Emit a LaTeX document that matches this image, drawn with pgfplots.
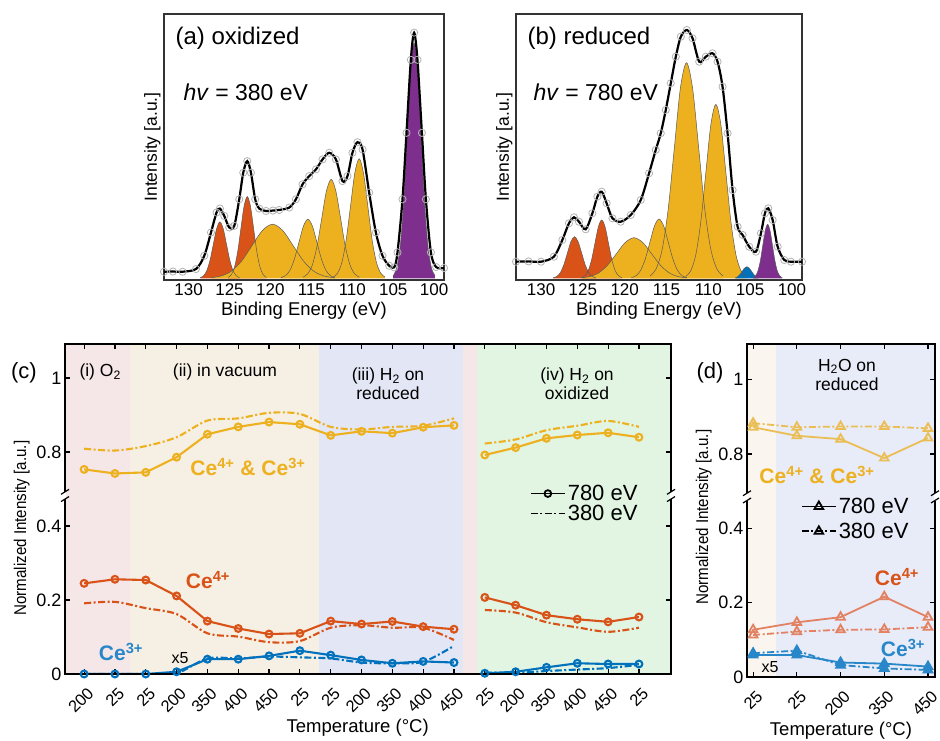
\documentclass[border=0pt]{standalone}
\usepackage{fontspec}
\setmainfont{Liberation Sans}
\usepackage{pgfplots}
\usepackage{pgfplotstable}
\pgfplotsset{compat=1.18}

\newcommand{\fs}[1]{\fontsize{#1}{#1}\selectfont}
\newcommand{\narrow}[1]{\scalebox{0.89}[1]{#1}}

\definecolor{mY}{RGB}{237,177,32}
\definecolor{mR}{RGB}{217,83,25}
\definecolor{mB}{RGB}{0,114,189}
\definecolor{mP}{RGB}{126,47,142}
\definecolor{dY}{RGB}{234,190,85}
\definecolor{dR}{RGB}{226,130,98}
\definecolor{dB}{RGB}{40,135,200}
\definecolor{bgPink}{RGB}{245,230,232}
\definecolor{bgBeige}{RGB}{246,239,227}
\definecolor{bgBlue}{RGB}{227,231,245}
\definecolor{bgGreen}{RGB}{226,244,226}
\definecolor{bgBeigeD}{RGB}{250,245,238}
\definecolor{bgBlueD}{RGB}{232,235,248}

\pgfplotsset{
  xps/.style={scale only axis, x dir=reverse, xmin=98.8, xmax=133.0,
    xtick={100,105,...,130}, ytick=\empty, xtick style={draw=none},
    axis line style={black!80, line width=1.2pt},
    ticklabel style={font=\fs{17}}, /pgf/number format/assume math mode=true,
    xlabel={Binding Energy (eV)}, ylabel={Intensity [a.u.]},
    xlabel style={font=\fs{18.5}}, ylabel style={font=\fs{17.5}}},
  comp/.style={fill=#1, draw=none, smooth},
  cline/.style={draw=black!65, line width=0.5pt, smooth},
  raw/.style={only marks, mark=o, mark size=3.6pt, black!30, line width=0.8pt},
  fit/.style={black, line width=2.2pt, smooth},
  trend/.style={scale only axis, tick align=inside, tick pos=both,
    major tick length=5pt, axis on top, axis line style={line width=1.5pt},
    every tick/.style={black, line width=1.2pt},
    ytick={0,0.2,0.4,0.6,0.8}, yticklabels={0,0.2,0.4,0.8,1},
    xticklabel style={font=\fs{16.5}, xshift=9pt, yshift=-14pt, rotate=45, anchor=east},
    yticklabel style={font=\fs{18}},
    xlabel={Temperature (°C)}, ylabel={\narrow{Normalized Intensity [a.u.]}},
    xlabel style={font=\fs{18.5}, yshift=3pt}, ylabel style={font=\fs{17}},
    unbounded coords=jump,
    legend cell align=left,
    legend style={draw=none, fill=none, font=\fs{22}, row sep=-1pt},
    legend image code/.code={\draw[mark repeat=2,mark phase=2,#1]
      plot coordinates {(0pt,0pt) (17pt,0pt) (34pt,0pt)};}},
  dd/.style={dash pattern=on 7pt off 2.5pt on 2pt off 2.5pt},
}

% ---------- (a) oxidized, hv = 380 eV ----------
\pgfplotstableread{
E h
123.77 0.6
124.17 2.5
124.57 7.7
124.97 18.4
125.37 34.3
125.77 49.9
126.17 56.6
126.57 49.9
126.97 34.3
127.37 18.4
127.77 7.7
128.17 2.5
128.57 0.6
}\aRa
\pgfplotstableread{
E h
120.49 0.9
120.88 3.6
121.27 11.1
121.66 26.6
122.05 49.7
122.44 72.4
122.83 82.0
123.22 72.4
123.61 49.7
124.00 26.6
124.39 11.1
124.78 3.6
125.17 0.9
}\aRb
\pgfplotstableread{
E h
112.24 0.6
113.49 2.4
114.74 7.3
115.99 17.6
117.24 32.9
118.49 47.9
119.74 54.3
120.99 47.9
122.24 32.9
123.49 17.6
124.74 7.3
125.99 2.4
127.24 0.6
}\aYa
\pgfplotstableread{
E h
112.12 0.7
112.67 2.6
113.22 8.0
113.77 19.3
114.32 36.0
114.87 52.3
115.42 59.3
115.97 52.3
116.52 36.0
117.07 19.3
117.62 8.0
118.17 2.6
118.72 0.7
}\aYb
\pgfplotstableread{
E h
109.13 1.1
109.71 4.4
110.28 13.4
110.86 32.2
111.43 60.2
112.01 87.6
112.58 99.3
113.16 87.6
113.73 60.2
114.31 32.2
114.88 13.4
115.46 4.4
116.03 1.1
}\aYc
\pgfplotstableread{
E h
106.01 1.3
106.54 5.3
107.06 16.2
107.59 39.0
108.11 72.8
108.64 105.9
109.16 120.0
109.69 105.9
110.21 72.8
110.74 39.0
111.26 16.2
111.79 5.3
112.31 1.3
}\aYd
\pgfplotstableread{
E h
99.90 2.6
100.33 10.4
100.75 31.9
101.18 76.6
101.60 143.1
102.03 208.3
102.45 236.0
102.88 208.3
103.30 143.1
103.73 76.6
104.15 31.9
104.58 10.4
105.00 2.6
}\aP
\pgfplotstableread{
E h
133.0 6.6
131.9 6.8
130.73 6.6
129.10 9.3
128.08 22.6
127.26 46.0
126.58 66.0
126.17 70.0
125.64 62.6
125.03 51.0
124.42 52.6
123.81 79.3
123.32 106.0
122.83 117.6
122.38 106.0
121.86 79.3
121.37 70.0
120.55 67.6
119.70 68.0
118.93 68.6
117.70 71.0
116.89 79.3
116.08 94.3
115.26 102.6
114.44 109.3
113.64 119.3
112.82 126.0
112.00 119.3
111.20 97.6
110.59 102.6
109.98 126.0
109.37 136.6
108.75 129.3
107.94 86.0
107.12 46.0
106.31 22.6
105.49 12.6
104.88 11.0
104.48 26.0
103.87 79.3
103.38 146.0
102.85 219.3
102.45 246.6
102.04 219.3
101.50 146.0
101.01 79.3
100.40 26.0
99.76 11.3
98.8 10.3
}\aEnv

% ---------- (b) reduced, hv = 780 eV ----------
\pgfplotstableread{
E h
123.45 0.5
123.88 1.8
124.30 5.6
124.73 13.5
125.15 25.2
125.58 36.7
126.00 41.6
126.43 36.7
126.85 25.2
127.28 13.5
127.70 5.6
128.13 1.8
128.55 0.5
}\bRa
\pgfplotstableread{
E h
120.35 0.6
120.75 2.6
121.15 7.9
121.55 18.9
121.95 35.4
122.35 51.5
122.75 58.3
123.15 51.5
123.55 35.4
123.95 18.9
124.35 7.9
124.75 2.6
125.15 0.6
}\bRb
\pgfplotstableread{
E h
112.59 0.5
113.64 1.8
114.69 5.5
115.74 13.2
116.79 24.6
117.84 35.8
118.89 40.6
119.94 35.8
120.99 24.6
122.04 13.2
123.09 5.5
124.14 1.8
125.19 0.5
}\bYa
\pgfplotstableread{
E h
112.59 0.7
113.14 2.6
113.69 8.0
114.24 19.3
114.79 36.0
115.34 52.3
115.89 59.3
116.44 52.3
116.99 36.0
117.54 19.3
118.09 8.0
118.64 2.6
119.19 0.7
}\bYb
\pgfplotstableread{
E h
108.26 2.4
108.99 9.5
109.71 29.2
110.44 70.0
111.16 130.8
111.89 190.3
112.61 215.6
113.34 190.3
114.06 130.8
114.79 70.0
115.51 29.2
116.24 9.5
116.96 2.4
}\bYc
\pgfplotstableread{
E h
105.50 1.9
106.10 7.6
106.70 23.5
107.30 56.5
107.90 105.5
108.50 153.6
109.10 174.0
109.70 153.6
110.30 105.5
110.90 56.5
111.50 23.5
112.10 7.6
112.70 1.9
}\bYd
\pgfplotstableread{
E h
104.02 0.5
104.29 1.6
104.57 3.8
104.84 7.0
105.12 10.2
105.39 11.6
105.67 10.2
105.94 7.0
106.22 3.8
106.49 1.6
106.77 0.5
}\bB
\pgfplotstableread{
E h
101.17 0.6
101.46 2.4
101.75 7.3
102.04 17.5
102.33 32.8
102.62 47.7
102.91 54.0
103.20 47.7
103.49 32.8
103.78 17.5
104.07 7.3
104.36 2.4
104.65 0.6
}\bP
\pgfplotstableread{
E h
133.0 16.6
131.5 16.9
130.0 16.6
128.47 21.6
127.46 38.3
126.67 55.0
126.07 61.0
125.47 56.6
124.67 49.0
123.87 65.0
123.27 81.6
122.75 86.6
122.16 75.0
121.47 60.0
120.48 56.6
119.28 63.3
118.08 78.3
117.09 105.0
116.29 128.3
115.69 145.0
115.09 168.3
114.49 195.0
113.89 221.6
113.29 241.6
112.57 248.3
111.89 240.0
111.09 216.6
110.30 221.6
109.50 225.0
108.90 216.6
108.30 191.6
107.70 145.0
107.10 88.3
106.50 51.6
105.90 43.3
105.11 31.6
104.31 26.6
103.71 45.0
103.23 65.0
102.83 70.0
102.31 58.3
101.71 31.6
100.92 18.3
100.12 16.6
98.8 16.6
}\bEnv

% ---------- (c) series: a = 780 eV, b = 380 eV ----------
\pgfplotstableread{
x a b
0 0.753 0.809
1 0.742 0.804
2 0.745 0.816
3 0.786 0.840
4 0.848 0.885
5 0.868 0.891
6 0.881 0.906
7 0.875 0.903
8 0.845 0.868
9 0.856 0.861
10 0.851 0.868
11 0.867 0.871
12 0.872 0.891
12.5 nan nan
13 0.792 0.823
14 0.812 0.834
15 0.837 0.859
16 0.846 0.871
17 0.852 0.884
18 0.840 0.868
}\cY
\pgfplotstableread{
x a b
0 0.245 0.191
1 0.256 0.195
2 0.254 0.178
3 0.211 0.162
4 0.143 0.110
5 0.123 0.101
6 0.108 0.086
7 0.110 0.089
8 0.143 0.125
9 0.135 0.132
10 0.142 0.125
11 0.128 0.125
12 0.121 0.092
12.5 nan nan
13 0.207 0.173
14 0.186 0.166
15 0.159 0.140
16 0.148 0.126
17 0.141 0.114
18 0.154 0.125
}\cR
\pgfplotstableread{
x a b
0 0.000 0.000
1 0.000 0.000
2 0.000 0.000
3 0.006 0.002
4 0.040 0.042
5 0.040 0.042
6 0.049 0.047
7 0.063 0.045
8 0.051 0.042
9 0.038 0.031
10 0.029 0.029
11 0.034 0.033
12 0.031 0.076
12.5 nan nan
13 0.002 0.004
14 0.006 0.003
15 0.018 0.008
16 0.029 0.012
17 0.027 0.016
18 0.027 0.025
}\cB

% ---------- (d) series ----------
\pgfplotstableread{
x a b
0 0.872 0.883
1 0.849 0.872
2 0.840 0.874
3 0.789 0.874
4 0.843 0.869
}\dYt
\pgfplotstableread{
x a b
0 0.127 0.113
1 0.147 0.122
2 0.161 0.127
3 0.216 0.128
4 0.161 0.134
}\dRt
\pgfplotstableread{
x a b
0 0.059 0.064
1 0.059 0.071
2 0.039 0.032
3 0.036 0.023
4 0.028 0.019
}\dBt

\newcommand{\brk}[2]{%
  \fill[white] ([xshift=-1.3pt]#1) rectangle ([xshift=1.3pt]#2);
  \draw[line width=1.2pt] ([xshift=-4pt,yshift=-2.5pt]#1) -- ([xshift=4pt,yshift=2.5pt]#1);
  \draw[line width=1.2pt] ([xshift=-4pt,yshift=-2.5pt]#2) -- ([xshift=4pt,yshift=2.5pt]#2);}

\begin{document}
\begin{tikzpicture}[x=1pt,y=1pt]
\path[use as bounding box] (0pt,0pt) rectangle (940pt,741pt);

% (a)
\begin{axis}[xps, at={(164pt,461pt)}, anchor=south west, width=280pt, height=266pt,
  ymin=-1.7, ymax=265.3]
\addplot[comp=mR] table {\aRa} \closedcycle;
\addplot[comp=mR] table {\aRb} \closedcycle;
\addplot[comp=mY] table {\aYa} \closedcycle;
\addplot[comp=mY] table {\aYb} \closedcycle;
\addplot[comp=mY] table {\aYc} \closedcycle;
\addplot[comp=mY] table {\aYd} \closedcycle;
\addplot[comp=mP] table {\aP} \closedcycle;
\addplot[cline] table {\aRa};
\addplot[cline] table {\aRb};
\addplot[cline] table {\aYa};
\addplot[cline] table {\aYb};
\addplot[cline] table {\aYc};
\addplot[cline] table {\aYd};
\addplot[cline] table {\aP};
\addplot[raw] table {\aEnv};
\addplot[fit] table {\aEnv};
\end{axis}

% (b)
\begin{axis}[xps, at={(516pt,461pt)}, anchor=south west, width=286pt, height=266pt,
  ymin=-1.7, ymax=264.3]
\addplot[comp=mR] table {\bRa} \closedcycle;
\addplot[comp=mR] table {\bRb} \closedcycle;
\addplot[comp=mY] table {\bYa} \closedcycle;
\addplot[comp=mY] table {\bYb} \closedcycle;
\addplot[comp=mY] table {\bYc} \closedcycle;
\addplot[comp=mY] table {\bYd} \closedcycle;
\addplot[comp=mB] table {\bB} \closedcycle;
\addplot[comp=mP] table {\bP} \closedcycle;
\addplot[cline] table {\bRa};
\addplot[cline] table {\bRb};
\addplot[cline] table {\bYa};
\addplot[cline] table {\bYb};
\addplot[cline] table {\bYc};
\addplot[cline] table {\bYd};
\addplot[cline] table {\bB};
\addplot[cline] table {\bP};
\addplot[raw] table {\bEnv};
\addplot[fit] table {\bEnv};
\end{axis}

% (c)
\begin{axis}[trend, name=c, at={(65pt,67pt)}, anchor=south west, width=606pt, height=330pt,
  xmin=-0.62, xmax=19.04, ymin=0, ymax=0.892, xtick={0,...,18},
  xticklabels={200,25,25,200,350,400,450,25,25,200,350,400,450,25,200,350,400,450,25},
  xlabel style={at={(ticklabel cs:0.483)}}, ylabel style={at={(ticklabel cs:0.442)}},
  legend style={at={(0.762,0.585)}, anchor=north west}]
\fill[bgPink] (axis cs:-0.62,0) rectangle (axis cs:1.5,0.892);
\fill[bgBeige] (axis cs:1.5,0) rectangle (axis cs:7.63,0.892);
\fill[bgBlue] (axis cs:7.63,0) rectangle (axis cs:12.3,0.892);
\fill[bgPink] (axis cs:12.3,0) rectangle (axis cs:12.74,0.892);
\fill[bgGreen] (axis cs:12.74,0) rectangle (axis cs:19.04,0.892);
\addplot[mY, line width=2.1pt, dd, smooth, forget plot, y filter/.expression={y-0.2}] table[x=x,y=b] {\cY};
\addplot[mY, line width=2.1pt, mark=o, mark size=3.4pt, forget plot, y filter/.expression={y-0.2}] table[x=x,y=a] {\cY};
\addplot[mR, line width=2.1pt, dd, smooth, forget plot] table[x=x,y=b] {\cR};
\addplot[mR, line width=2.1pt, mark=o, mark size=3.4pt, forget plot] table[x=x,y=a] {\cR};
\addplot[mB, line width=2.1pt, dd, smooth, forget plot] table[x=x,y=b] {\cB};
\addplot[mB, line width=2.1pt, mark=o, mark size=3.4pt, forget plot] table[x=x,y=a] {\cB};
\addlegendimage{black, line width=1.8pt, mark=o, mark size=3.4pt}
\addlegendentry{780 eV}
\addlegendimage{black, line width=1.8pt, dd}
\addlegendentry{380 eV}
\coordinate (cL1) at (rel axis cs:0,0.530);
\coordinate (cL2) at (rel axis cs:0,0.552);
\coordinate (cR1) at (rel axis cs:1,0.530);
\coordinate (cR2) at (rel axis cs:1,0.552);
\end{axis}
\brk{cL1}{cL2}
\brk{cR1}{cR2}

% (d)
\begin{axis}[trend, name=d, at={(747pt,64pt)}, anchor=south west, width=188pt, height=333pt,
  xmin=-0.14, xmax=4.16, ymin=0, ymax=0.896, xtick={0,...,4},
  xticklabels={25,25,200,350,450},
  ylabel style={at={(ticklabel cs:0.48)}},
  legend style={at={(0.27,0.55)}, anchor=north west, row sep=4pt}]
\fill[bgBeigeD] (axis cs:-0.14,0) rectangle (axis cs:0.53,0.896);
\fill[bgBlueD] (axis cs:0.53,0) rectangle (axis cs:4.16,0.896);
\addplot[dY, line width=1.8pt, dd, mark=triangle, mark size=5pt, mark options={solid}, forget plot, y filter/.expression={y-0.2}] table[x=x,y=b] {\dYt};
\addplot[dY, line width=1.8pt, mark=triangle, mark size=5pt, forget plot, y filter/.expression={y-0.2}] table[x=x,y=a] {\dYt};
\addplot[dR, line width=1.8pt, dd, mark=triangle, mark size=5pt, mark options={solid}, forget plot] table[x=x,y=b] {\dRt};
\addplot[dR, line width=1.8pt, mark=triangle, mark size=5pt, forget plot] table[x=x,y=a] {\dRt};
\addplot[dB, line width=1.8pt, dd, mark=triangle*, mark size=5pt, mark options={solid}, forget plot] table[x=x,y=b] {\dBt};
\addplot[dB, line width=1.8pt, mark=triangle*, mark size=5pt, forget plot] table[x=x,y=a] {\dBt};
\addlegendimage{black, line width=1.8pt, mark=triangle, mark size=5pt}
\addlegendentry{780 eV}
\addlegendimage{black, line width=1.8pt, dd, mark=triangle, mark size=5pt, mark options={solid}}
\addlegendentry{380 eV}
\coordinate (dL1) at (rel axis cs:0,0.530);
\coordinate (dL2) at (rel axis cs:0,0.552);
\coordinate (dR1) at (rel axis cs:1,0.530);
\coordinate (dR2) at (rel axis cs:1,0.552);
\end{axis}
\brk{dL1}{dL2}
\brk{dR1}{dR2}

% panel texts
\node[anchor=west, font=\fs{24}] at (172pt,703pt) {(a) oxidized};
\node[anchor=west, font=\fs{23}] at (180pt,649pt) {\textit{hv} = 380 eV};
\node[anchor=west, font=\fs{24}] at (524pt,703pt) {(b) reduced};
\node[anchor=west, font=\fs{23}] at (530pt,649pt) {\textit{hv} = 780 eV};

\node[font=\fs{22}] at (24pt,368pt) {(c)};
\node[anchor=west, font=\fs{17.5}] at (76pt,369pt) {(i) O\textsubscript{2}};
\node[font=\fs{17.5}] at (225pt,369pt) {(ii) in vacuum};
\node[font=\fs{17.5}, align=center] at (388pt,357pt) {(iii) H\textsubscript{2} on\\[2pt]reduced};
\node[font=\fs{17.5}, align=center] at (577pt,357pt) {(iv) H\textsubscript{2} on\\[2pt]oxidized};
\node[font=\bfseries\fs{21}, text=mY] at (248pt,274pt) {Ce\textsuperscript{4+} \& Ce\textsuperscript{3+}};
\node[font=\bfseries\fs{21}, text=mR] at (208pt,161pt) {Ce\textsuperscript{4+}};
\node[font=\bfseries\fs{21}, text=dB] at (121pt,89pt) {Ce\textsuperscript{3+}};
\node[font=\fs{16}] at (180pt,83pt) {x5};

\node[font=\fs{22}] at (710pt,368pt) {(d)};
\node[font=\fs{17.5}, align=center] at (847pt,366pt) {H\textsubscript{2}O on\\[2pt]reduced};
\node[font=\bfseries\fs{21}, text=mY] at (817pt,266pt) {Ce\textsuperscript{4+} \& Ce\textsuperscript{3+}};
\node[font=\bfseries\fs{21}, text=mR] at (897pt,164pt) {Ce\textsuperscript{4+}};
\node[font=\bfseries\fs{21}, text=dB] at (903pt,93pt) {Ce\textsuperscript{3+}};
\node[font=\fs{16}] at (770pt,74pt) {x5};
\end{tikzpicture}
\end{document}
